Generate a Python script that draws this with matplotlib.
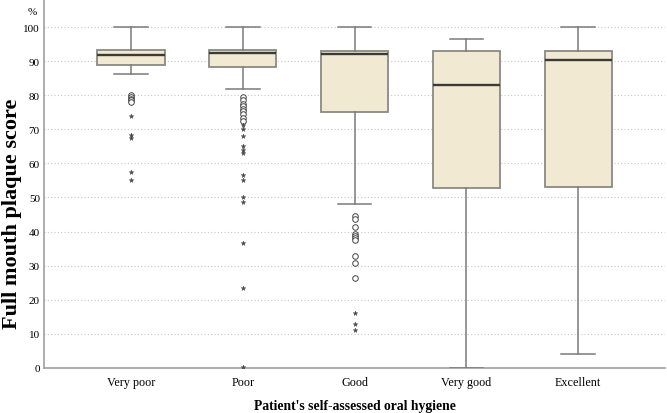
import matplotlib
matplotlib.use("Agg")
import matplotlib.pyplot as plt

categories = ["Very poor", "Poor", "Good", "Very good", "Excellent"]
whislo = [86.3, 81.7, 48.0, 0.0, 4.0]
q1 = [88.8, 88.3, 75.0, 52.8, 53.2]
med = [91.8, 92.4, 92.1, 83.0, 90.3]
q3 = [93.3, 93.4, 93.0, 93.0, 93.0]
whishi = [100.0, 100.0, 100.0, 96.5, 100.0]

circles = [
    [80.2, 79.6, 79.0, 78.5, 78.0],
    [79.6, 78.7, 77.5, 76.8, 76.0, 75.3, 74.5, 73.2, 72.3],
    [44.7, 43.8, 41.2, 39.2, 38.6, 38.0, 37.6, 32.8, 30.8, 26.3],
    [],
    [],
]
stars = [
    [74.0, 68.2, 67.6, 57.6, 55.0],
    [71.3, 70.0, 68.0, 65.0, 64.0, 63.0, 56.5, 55.0, 50.0, 48.8, 36.7, 23.3, 0.3],
    [16.0, 12.8, 11.0],
    [],
    [],
]
yticks = [0, 10, 20, 30, 40, 50, 60, 70, 80, 90, 100]

plt.rcParams["font.family"] = ["Liberation Serif", "DejaVu Serif"]

fig = plt.figure(figsize=(6.67, 4.14), dpi=100)
ax = fig.add_axes([0.066, 0.109, 0.931, 0.889])

stats = []
for i, c in enumerate(categories):
    stats.append(dict(label=c, whislo=whislo[i], q1=q1[i], med=med[i],
                      q3=q3[i], whishi=whishi[i], fliers=[]))

pos = list(range(len(categories)))
ax.bxp(stats, positions=pos, widths=0.6, patch_artist=True, showfliers=False,
       boxprops=dict(facecolor="#F1E9D2", edgecolor="#8a8a84", linewidth=1.3),
       medianprops=dict(color="#3a3a36", linewidth=1.7),
       whiskerprops=dict(color="#7a7a7a", linewidth=1.1),
       capprops=dict(color="#7a7a7a", linewidth=1.1),
       capwidths=0.3, zorder=3)

for i in pos:
    if circles[i]:
        ax.plot([i] * len(circles[i]), circles[i], linestyle="none", marker="o",
                markersize=4, markerfacecolor="white", markeredgecolor="#444444",
                markeredgewidth=0.7, zorder=4)
    if stars[i]:
        ax.plot([i] * len(stars[i]), stars[i], linestyle="none", marker="*",
                markersize=3.5, color="#444444", markeredgewidth=0.3, zorder=4)

ax.set_xlim(-0.778, 4.778)
ax.set_ylim(0, 108)
ax.set_yticks(yticks)
ax.set_yticklabels([str(v) for v in yticks], fontsize=8)
ax.set_xticks(pos)
ax.set_xticklabels(categories, fontsize=8.7)
ax.tick_params(axis="both", length=0, pad=3)
ax.tick_params(axis="x", pad=6)

ax.yaxis.grid(True, linestyle=(0, (1, 2)), color="#c8c8c8", linewidth=0.8)
ax.set_axisbelow(True)
for s in ["top", "right"]:
    ax.spines[s].set_visible(False)
for s in ["left", "bottom"]:
    ax.spines[s].set_color("#a0a0a0")
    ax.spines[s].set_linewidth(1.2)

ax.set_xlabel("Patient's self-assessed oral hygiene", fontsize=9.8,
              fontweight="bold", labelpad=8)
ax.set_ylabel("Full mouth plaque score", fontsize=16, fontweight="bold")
ax.yaxis.set_label_coords(-0.036, 0.42)
fig.text(0.049, 0.97, "%", fontsize=8, ha="center", va="center")

fig.savefig("out.png", dpi=100)
